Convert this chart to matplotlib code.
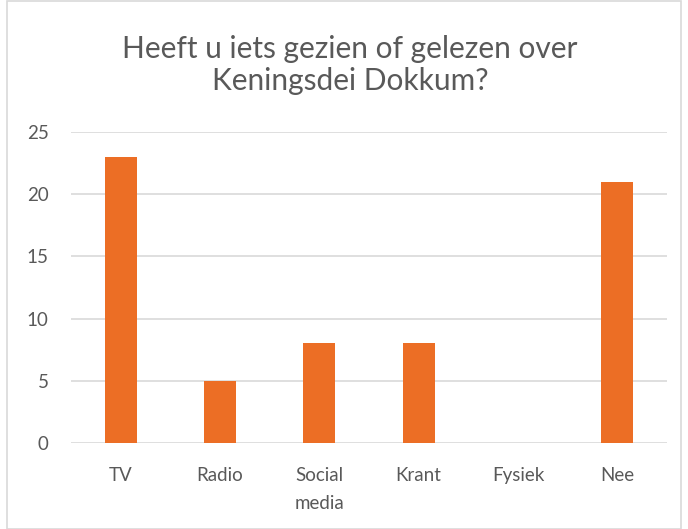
import matplotlib
matplotlib.use("Agg")
import matplotlib.pyplot as plt
from matplotlib.patches import Rectangle

categories = ["TV", "Radio", "Social\nmedia", "Krant", "Fysiek", "Nee"]
values = [23, 5, 8, 8, 0, 21]
yticks = [0, 5, 10, 15, 20, 25]
title = "Heeft u iets gezien of gelezen over\nKeningsdei Dokkum?"

plt.rcParams['font.family'] = ['Lato', 'DejaVu Sans']

W, H = 688, 529
fig = plt.figure(figsize=(W/100, H/100), dpi=100)
fig.patch.set_facecolor("white")
fig.add_artist(Rectangle((7/W, 0), (W-14)/W, 1 - 1/H, transform=fig.transFigure,
                         fill=False, edgecolor="#d9d9d9", linewidth=1.2))

ax = fig.add_axes([71/W, (H-443)/H, (667-71)/W, (443-132)/H])
x = list(range(len(categories)))
ax.bar(x, values, width=0.32, color="#EC6E25", zorder=3)
ax.set_xlim(-0.5, len(categories) - 0.5)
ax.set_ylim(0, 25)
ax.set_yticks(yticks)
ax.set_xticks(x)
ax.set_xticklabels(categories, linespacing=1.8)
ax.grid(axis="y", color="#d9d9d9", linewidth=1.2, zorder=0)
for s in ax.spines.values():
    s.set_visible(False)
ax.tick_params(length=0, labelsize=13.5, colors="#595959")
ax.tick_params(axis="y", pad=16)
ax.tick_params(axis="x", pad=17)
for lbl in ax.get_xticklabels():
    lbl.set_verticalalignment("top")
fig.text(350/W, 1 - 65/H, title, ha="center", va="center", fontsize=21.5,
         color="#595959", linespacing=1.2)
fig.savefig("out.png", dpi=100)
